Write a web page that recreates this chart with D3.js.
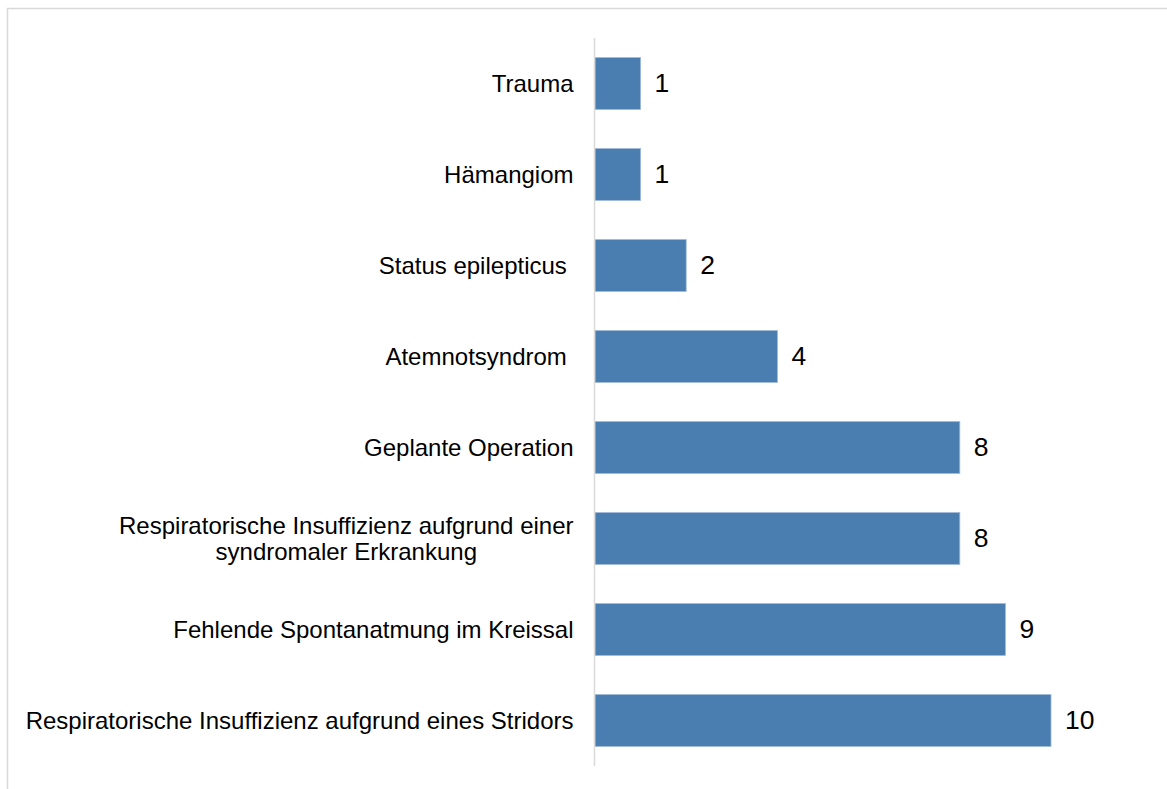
<!DOCTYPE html>
<html>
<head>
<meta charset="utf-8">
<script src="https://cdn.jsdelivr.net/npm/d3@7"></script>
<style>
  html, body { margin: 0; padding: 0; background: #fff; }
  svg { display: block; font-family: "Liberation Sans", Arial, sans-serif; }
</style>
</head>
<body>
<svg id="chart" width="1167" height="789"></svg>
<script>
// Indikationen (top to bottom) and their counts
const categories = [
  "Trauma",
  "Hämangiom",
  "Status epilepticus ",
  "Atemnotsyndrom ",
  "Geplante Operation",
  "Respiratorische Insuffizienz aufgrund einer\nsyndromaler Erkrankung",
  "Fehlende Spontanatmung im Kreissal",
  "Respiratorische Insuffizienz aufgrund eines Stridors"
];
const values = [1, 1, 2, 4, 8, 8, 9, 10];

const labelSize = 24;
const valueSize = 26.5;
const svg = d3.select("#chart");

// light frame around the chart area
svg.append("rect")
  .attr("x", 7.5).attr("y", 8.5)
  .attr("width", 1170).attr("height", 800)
  .attr("fill", "none")
  .attr("stroke", "#d9d9d9")
  .attr("stroke-width", 1.5);

const axisX = 594.5;
const y = d3.scaleBand()
  .domain(categories)
  .range([38, 766])
  .paddingInner(0.43)
  .paddingOuter(0.215);

const x = d3.scaleLinear()
  .domain([0, 10])
  .range([axisX + 0.5, 1051]);

// bars
svg.append("g").selectAll("rect")
  .data(categories)
  .join("rect")
  .attr("x", x(0))
  .attr("y", d => y(d))
  .attr("width", (d, i) => x(values[i]) - x(0))
  .attr("height", y.bandwidth())
  .attr("fill", "#4a7eb0")
  .attr("stroke", "#9fb9d8")
  .attr("stroke-width", 0.8);

// value labels
svg.append("g").selectAll("text")
  .data(categories)
  .join("text")
  .attr("x", (d, i) => x(values[i]) + 14)
  .attr("y", d => y(d) + y.bandwidth() / 2)
  .attr("dy", "0.33em")
  .attr("font-size", valueSize)
  .attr("fill", "#000")
  .text((d, i) => values[i]);

// category labels (multi-line labels are centered as a block, right-aligned to the axis)
const labelG = svg.append("g");
categories.forEach(cat => {
  const lines = cat.split("\n");
  const cy = y(cat) + y.bandwidth() / 2;
  const lh = 26;
  const t = labelG.append("text")
    .attr("font-size", labelSize)
    .attr("fill", "#000")
    .style("white-space", "pre");
  lines.forEach((ln, k) => {
    t.append("tspan")
      .attr("y", cy + (k - (lines.length - 1) / 2) * lh)
      .attr("dy", "0.35em")
      .text(ln);
  });
  const tspans = t.selectAll("tspan").nodes();
  const widths = tspans.map(n => n.getComputedTextLength());
  const maxW = d3.max(widths);
  const right = axisX - 21;
  tspans.forEach((n, k) => {
    d3.select(n).attr("x", right - maxW + (maxW - widths[k]) / 2);
  });
});

// vertical category axis line
svg.append("line")
  .attr("x1", axisX).attr("x2", axisX)
  .attr("y1", 38).attr("y2", 766)
  .attr("stroke", "#d9d9d9")
  .attr("stroke-width", 1.5);
</script>
</body>
</html>
